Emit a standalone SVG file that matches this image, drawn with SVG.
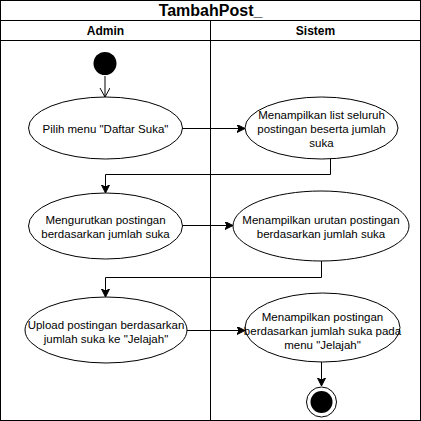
<svg xmlns="http://www.w3.org/2000/svg" width="421" height="421" viewBox="0 0 421 421">
<defs>
<style>
.frame{fill:#fff;stroke:#000;stroke-width:1}
.ln{fill:none;stroke:#000;stroke-width:1}
.act{fill:#fff;stroke:#000;stroke-width:1}
.t{font-family:"Liberation Sans",Arial,sans-serif;font-size:11.5px;fill:#000;text-anchor:middle}
.h{font-family:"Liberation Sans",Arial,sans-serif;font-size:12px;font-weight:bold;fill:#000;text-anchor:middle}
.title{font-family:"Liberation Sans",Arial,sans-serif;font-size:16px;font-weight:bold;fill:#000;text-anchor:middle}
.conn{fill:none;stroke:#000;stroke-width:1}
</style>
<marker id="block" markerUnits="userSpaceOnUse" markerWidth="10" markerHeight="10" refX="8" refY="4" orient="auto" viewBox="0 0 10 10">
<path d="M0,0 L8,4 L0,8 L2,4 z" fill="#000" stroke="#000" stroke-width="1"/>
</marker>
<marker id="open" markerUnits="userSpaceOnUse" markerWidth="12" markerHeight="12" refX="9" refY="5" orient="auto" viewBox="0 0 12 12">
<path d="M0,0 L9,5 L0,10" fill="none" stroke="#000" stroke-width="1"/>
</marker>
</defs>
<g id="pool">
<rect class="frame" x="0.5" y="0.5" width="420" height="420"/>
<line class="ln" x1="0.5" y1="20.5" x2="420.5" y2="20.5"/>
<line class="ln" x1="0.5" y1="40.5" x2="420.5" y2="40.5"/>
<line class="ln" x1="210.5" y1="20.5" x2="210.5" y2="420.5"/>
<text class="title" x="210.5" y="16">TambahPost_</text>
<text class="h" x="105.5" y="35">Admin</text>
<text class="h" x="315.5" y="35">Sistem</text>
</g>
<g id="connectors">
<line class="conn" x1="105" y1="76" x2="105" y2="97" marker-end="url(#open)"/>
<line class="conn" x1="182" y1="128.5" x2="245" y2="128.5" marker-end="url(#block)"/>
<polyline class="conn" points="330.5,158 330.5,174.5 105.5,174.5 105.5,193" marker-end="url(#block)"/>
<line class="conn" x1="182" y1="225.5" x2="233" y2="225.5" marker-end="url(#block)"/>
<polyline class="conn" points="321.5,261 321.5,277.5 105.5,277.5 105.5,297" marker-end="url(#block)"/>
<line class="conn" x1="187" y1="330.5" x2="245" y2="330.5" marker-end="url(#block)"/>
<line class="conn" x1="321.5" y1="362" x2="321.5" y2="386" marker-end="url(#block)"/>
</g>
<g id="start">
<circle cx="105" cy="63.5" r="11.5" fill="#000"/>
</g>
<g id="a1">
<ellipse class="act" cx="105.5" cy="128" rx="77" ry="31"/>
<text class="t" x="105.5" y="132.5">Pilih menu "Daftar Suka"</text>
</g>
<g id="a2">
<ellipse class="act" cx="321.5" cy="128" rx="76.5" ry="31"/>
<text class="t" x="321.5" y="119">Menampilkan list seluruh</text>
<text class="t" x="321.5" y="133">postingan beserta jumlah</text>
<text class="t" x="321.5" y="147">suka</text>
</g>
<g id="a3">
<ellipse class="act" cx="105.5" cy="226" rx="77" ry="33"/>
<text class="t" x="105.5" y="224">Mengurutkan postingan</text>
<text class="t" x="105.5" y="238">berdasarkan jumlah suka</text>
</g>
<g id="a4">
<ellipse class="act" cx="321" cy="226" rx="88" ry="35"/>
<text class="t" x="321" y="224">Menampilkan urutan postingan</text>
<text class="t" x="321" y="238">berdasarkan jumlah suka</text>
</g>
<g id="a5">
<ellipse class="act" cx="106" cy="330" rx="81" ry="33"/>
<text class="t" x="106" y="329">Upload postingan berdasarkan</text>
<text class="t" x="106" y="343">jumlah suka ke "Jelajah"</text>
</g>
<g id="a6">
<ellipse class="act" cx="322.5" cy="327.5" rx="77.5" ry="34.5"/>
<text class="t" x="322.5" y="321">Menampilkan postingan</text>
<text class="t" x="322.5" y="335">berdasarkan jumlah suka pada</text>
<text class="t" x="322.5" y="349">menu "Jelajah"</text>
</g>
<g id="end">
<circle cx="321.5" cy="402" r="15" fill="#fff" stroke="#000" stroke-width="1"/>
<circle cx="321.5" cy="402" r="11" fill="#000"/>
</g>
</svg>
